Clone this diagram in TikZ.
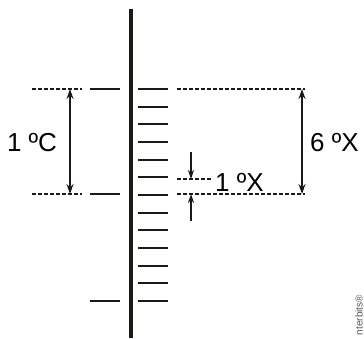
\documentclass[tikz,border=0pt]{standalone}
\usepackage{fontspec}
\setmainfont{Liberation Sans}
\definecolor{mInk}{HTML}{1A1A19}
\definecolor{mMark}{HTML}{555555}
\usetikzlibrary{positioning,arrows.meta}

\begin{document}
\begin{tikzpicture}[x=1pt, y=-1pt, font=\fontsize{26}{30}\selectfont,
  tick/.style={mInk, line width=1.7pt},
  guide/.style={mInk, line width=1.1pt, dash pattern=on 4pt off 2pt},
  dim/.style={mInk, line width=1.5pt, {Stealth[length=10pt,width=7pt]}-{Stealth[length=10pt,width=7pt]}},
  pin/.style={mInk, line width=1.3pt, -{Stealth[length=9pt,width=6pt]}}]
\useasboundingbox (0,0) rectangle (364,338);
% scale bar
\draw[mInk, line width=3.6pt] (131,9) -- (131,338);
% degree C ticks (left)
\foreach \y in {89,194,301} \draw[tick] (90,\y) -- (120,\y);
% degree X ticks (right)
\foreach \i in {0,...,12} \draw[tick] (138,{round(89+17.667*\i)}) -- (168,{round(89+17.667*\i)});
% guides
\draw[guide] (32,89) -- (82,89);
\draw[guide] (32,194) -- (82,194);
\draw[guide] (177,89) -- (305,89);
\draw[guide] (177,194) -- (305,194);
\draw[guide] (177,179) -- (211,179);
% dimension ends
\coordinate (cTop) at (70,89);
\coordinate (cBot) at (70,194);
\coordinate (xTop) at (302,89);
\coordinate (xBot) at (302,194);
\coordinate (oneFromA) at (191,152);
\coordinate (oneToA) at (191,179);
\coordinate (oneFromB) at (191,221);
\coordinate (oneToB) at (191,194);
\draw[dim] (cTop) -- (cBot);
\draw[dim] (xTop) -- (xBot);
\draw[pin] (oneFromA) -- (oneToA);
\draw[pin] (oneFromB) -- (oneToB);
% labels
\node[inner sep=0] (lblC) at (32,142.5) {1 ºC};
\node[inner sep=0] (lblSix) at (334.5,142.5) {6 ºX};
\node[inner sep=0] (lblOne) at (239.5,182) {1 ºX};
\node[inner sep=0, mMark, rotate=90, font=\fontsize{10}{12}\selectfont] (lblMark) at (359,315) {nterbits®};
\end{tikzpicture}
\end{document}
